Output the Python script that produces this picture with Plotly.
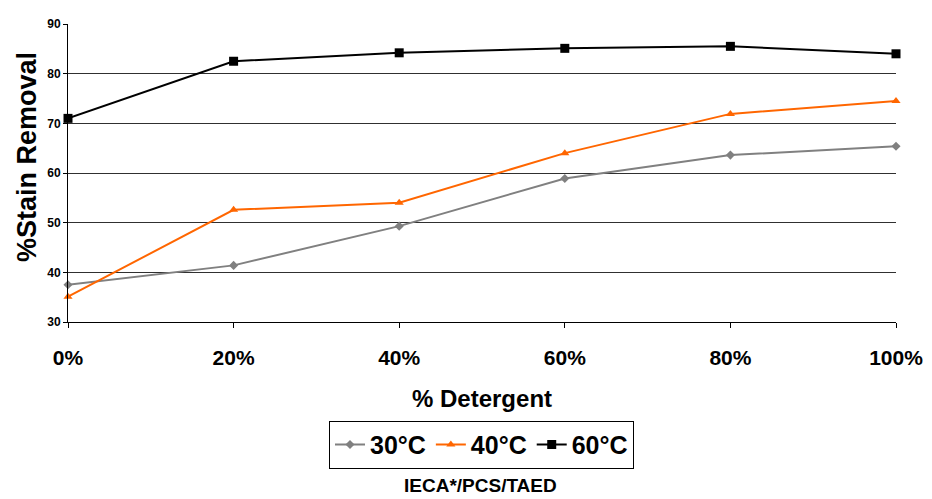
import plotly.graph_objects as go

categories = ["0%", "20%", "40%", "60%", "80%", "100%"]
s30 = [37.5, 41.4, 49.3, 58.9, 63.6, 65.4]
s40 = [35.1, 52.6, 54.0, 64.0, 71.9, 74.5]
s60 = [71.0, 82.5, 84.2, 85.1, 85.5, 84.0]
series_names = ["30°C", "40°C", "60°C"]
y_ticks = [30, 40, 50, 60, 70, 80, 90]

FONT = "Liberation Sans, Arial, sans-serif"

fig = go.Figure()
styles = [
    dict(color="#808080", symbol="diamond", size=7),
    dict(color="#FF6600", symbol="triangle-up", size=8),
    dict(color="#000000", symbol="square", size=9),
]
for name, vals, st in zip(series_names, [s30, s40, s60], styles):
    fig.add_trace(go.Scatter(
        x=categories, y=vals, name=name, mode="lines+markers",
        line=dict(color=st["color"], width=2),
        marker=dict(color=st["color"], symbol=st["symbol"], size=st["size"]),
        cliponaxis=False,
    ))

# page body has an 8px margin, so the figure is drawn 8px in from the corner
PL, PT, PW, PH = 68, 17, 831, 305  # plot area in window pixels

fig.update_layout(
    width=924, height=491,
    margin=dict(l=PL - 8, r=33, t=PT - 8, b=491 - (PT - 8) - PH),
    paper_bgcolor="white", plot_bgcolor="white",
    font=dict(family=FONT, color="black"),
    showlegend=True,
    legend=dict(
        orientation="h", x=(483 - PL) / PW, xanchor="center", y=-(423 - 322) / PH, yanchor="top",
        bordercolor="black", borderwidth=1,
        font=dict(family=FONT, size=25, color="black", weight="bold"),
        itemwidth=30, tracegroupgap=0,
    ),
    xaxis=dict(
        type="category", range=[0, 5],
        showgrid=False, showline=True, linecolor="black", linewidth=1,
        ticks="outside", ticklen=5, tickcolor="black",
        tickfont=dict(family=FONT, size=21, color="black", weight="bold"),
        ticklabelstandoff=12,
        zeroline=False,
    ),
    yaxis=dict(
        range=[30, 90], tickvals=y_ticks,
        showgrid=True, gridcolor="#303030", gridwidth=1,
        showline=True, linecolor="black", linewidth=1,
        ticks="outside", ticklen=4, tickcolor="black",
        tickfont=dict(family=FONT, size=12, color="black", weight="bold"),
        zeroline=False,
    ),
    annotations=[
        dict(text="<b>% Detergent</b>", xref="paper", yref="paper",
             x=(484 - PL) / PW, y=-(400 - 322) / PH, xanchor="center", yanchor="middle",
             showarrow=False, font=dict(family=FONT, size=24, color="black")),
        dict(text="<b>%Stain Removal</b>", xref="paper", yref="paper",
             x=-(PL - 27) / PW, y=(322 - 153) / PH, xanchor="center", yanchor="middle",
             textangle=-90, showarrow=False,
             font=dict(family=FONT, size=27, color="black")),
        dict(text="<b>IECA*/PCS/TAED</b>", xref="paper", yref="paper",
             x=(482 - PL) / PW, y=-(489 - 322) / PH, xanchor="center", yanchor="middle",
             showarrow=False, font=dict(family=FONT, size=19, color="black")),
    ],
)

fig.write_html("out.html")
